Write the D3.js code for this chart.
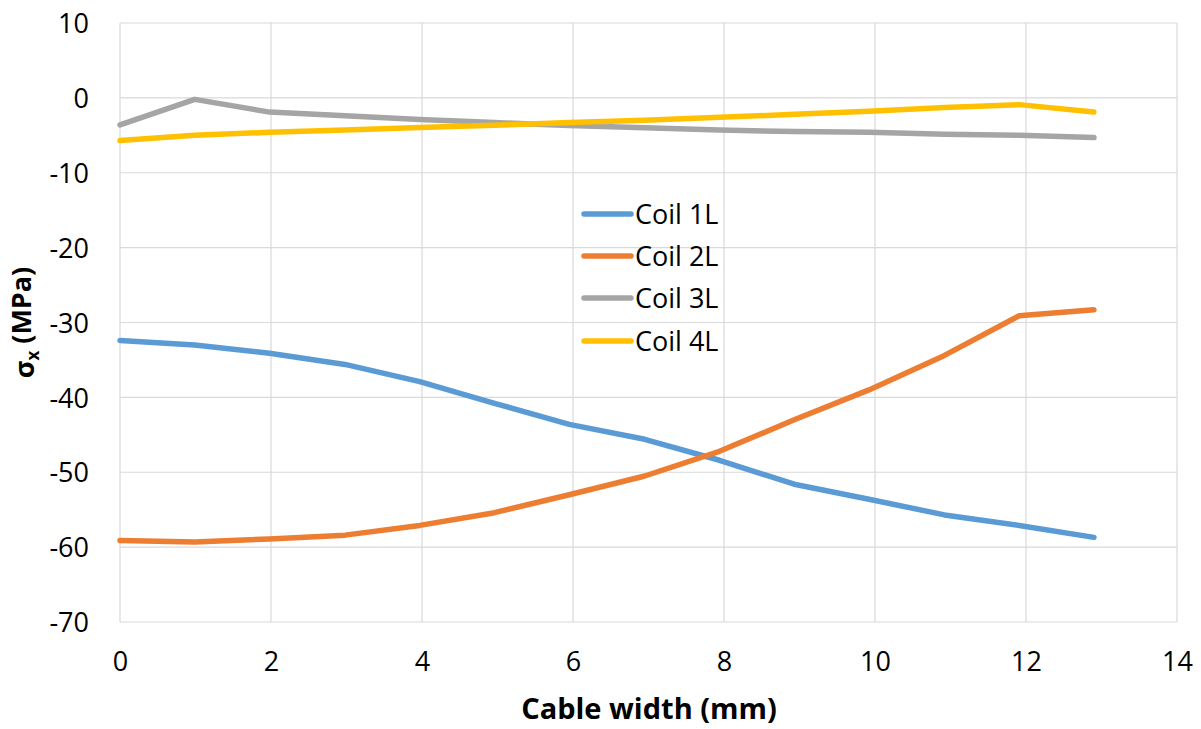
<!DOCTYPE html>
<html>
<head>
<meta charset="utf-8">
<script src="https://cdn.jsdelivr.net/npm/d3@7"></script>
<style>
  html, body { margin: 0; padding: 0; background: #fff; }
  svg text { font-family: "Open Sans", "Noto Sans", sans-serif; fill: #000; }
</style>
</head>
<body>
<svg id="chart" width="1201" height="729"></svg>
<script>
// Position across the cable width (mm)
const cableWidth = [0, 0.99, 1.98, 2.98, 3.97, 4.96, 5.95, 6.95, 7.94, 8.93, 9.92, 10.92, 11.91, 12.9];

// Stress sigma_x (MPa) for each coil
const coil1L = [-32.4, -33.0, -34.1, -35.6, -37.9, -40.8, -43.6, -45.6, -48.4, -51.6, -53.6, -55.7, -57.1, -58.7];
const coil2L = [-59.1, -59.3, -58.9, -58.4, -57.1, -55.4, -53.0, -50.5, -47.2, -43.0, -39.0, -34.4, -29.1, -28.3];
const coil3L = [-3.6, -0.2, -1.9, -2.4, -2.9, -3.3, -3.7, -4.0, -4.3, -4.5, -4.6, -4.85, -5.0, -5.3];
const coil4L = [-5.7, -5.0, -4.6, -4.3, -3.95, -3.65, -3.3, -3.0, -2.6, -2.2, -1.8, -1.3, -0.9, -1.9];

const seriesNames = ["Coil 1L", "Coil 2L", "Coil 3L", "Coil 4L"];
const seriesValues = [coil1L, coil2L, coil3L, coil4L];
const seriesColors = ["#5b9bd5", "#ed7d31", "#a5a5a5", "#ffc000"];

const xTicks = [0, 2, 4, 6, 8, 10, 12, 14];
const yTicks = [10, 0, -10, -20, -30, -40, -50, -60, -70];

const svg = d3.select("#chart");
const plotLeft = 120, plotRight = 1177, plotTop = 23, plotBottom = 622;

const x = d3.scaleLinear().domain([0, 14]).range([plotLeft, plotRight]);
const y = d3.scaleLinear().domain([-70, 10]).range([plotBottom, plotTop]);

// Gridlines
const grid = svg.append("g");
grid.selectAll("line.h").data(yTicks).join("line")
  .attr("class", "h")
  .attr("x1", plotLeft).attr("x2", plotRight)
  .attr("y1", d => y(d)).attr("y2", d => y(d))
  .attr("stroke", "#d9d9d9").attr("stroke-width", 1.2);
grid.selectAll("line.v").data(xTicks).join("line")
  .attr("class", "v")
  .attr("y1", plotTop).attr("y2", plotBottom)
  .attr("x1", d => x(d)).attr("x2", d => x(d))
  .attr("stroke", "#d9d9d9").attr("stroke-width", 1.2);

// Plain hyphen-minus for negative tick values
const plainFormat = d => String(d);

// Y axis tick labels
const yAxis = d3.axisLeft(y).tickValues(yTicks).tickFormat(plainFormat).tickSize(0).tickPadding(31);
const gy = svg.append("g").attr("transform", `translate(${plotLeft},0)`).call(yAxis);
gy.select(".domain").remove();
gy.attr("font-family", null);
gy.selectAll("text").style("font-size", "27px").attr("dy", "0.36em");

// X axis tick labels
const xAxis = d3.axisBottom(x).tickValues(xTicks).tickFormat(plainFormat).tickSize(0).tickPadding(30);
const gx = svg.append("g").attr("transform", `translate(0,${plotBottom})`).call(xAxis);
gx.select(".domain").remove();
gx.attr("font-family", null);
gx.selectAll("text").style("font-size", "27px");

// Axis titles
svg.append("text")
  .attr("x", 649).attr("y", 719)
  .attr("text-anchor", "middle")
  .style("font-size", "29px").style("font-weight", "bold")
  .text("Cable width (mm)");

const yTitle = svg.append("text")
  .attr("transform", `translate(34,${y(-30)}) rotate(-90)`)
  .attr("text-anchor", "middle")
  .style("font-size", "27px").style("font-weight", "bold");
yTitle.append("tspan").text("σ");
yTitle.append("tspan").attr("dy", "0.3em").style("font-size", "17px").text("x");
yTitle.append("tspan").attr("dy", "-0.3em").text(" (MPa)");

// Series lines
const line = d3.line()
  .x((d, i) => x(cableWidth[i]))
  .y(d => y(d));

svg.append("g").selectAll("path").data(seriesValues).join("path")
  .attr("d", d => line(d))
  .attr("fill", "none")
  .attr("stroke", (d, i) => seriesColors[i])
  .attr("stroke-width", 5.5)
  .attr("stroke-linejoin", "round")
  .attr("stroke-linecap", "round");

// Legend
const legendRows = [214, 256, 298, 341];
const legend = svg.append("g");
seriesNames.forEach((name, i) => {
  legend.append("line")
    .attr("x1", 584).attr("x2", 631)
    .attr("y1", legendRows[i]).attr("y2", legendRows[i])
    .attr("stroke", seriesColors[i]).attr("stroke-width", 5.5)
    .attr("stroke-linecap", "round");
  legend.append("text")
    .attr("x", 635).attr("y", legendRows[i])
    .attr("dy", "0.36em")
    .style("font-size", "27px")
    .text(name);
});
</script>
</body>
</html>
